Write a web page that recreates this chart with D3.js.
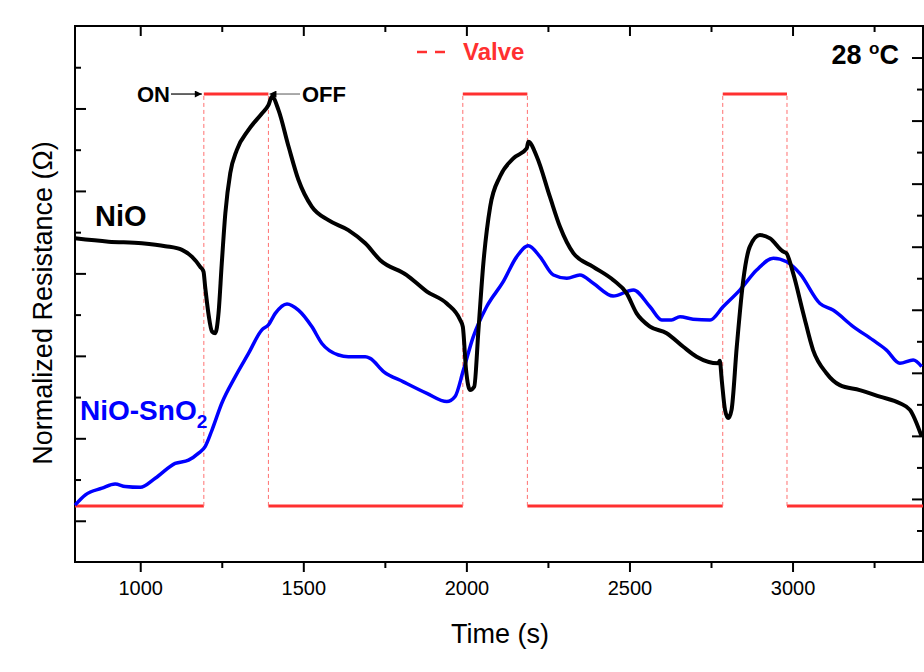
<!DOCTYPE html>
<html lang="en">
<head>
  <meta charset="UTF-8">
  <title>Normalized Resistance vs Time</title>
  <script src="https://d3js.org/d3.v7.min.js"></script>
  <style>
    body { margin: 0; background: #fff; }
    svg { display: block; font-family: Arial, "Liberation Sans", sans-serif; }
    .axis path, .axis line { stroke: #000; stroke-width: 2; }
    .axis text { font-size: 20px; fill: #000; }
  </style>
</head>
<body>
  <svg width="924" height="672"></svg>

  <script>
    // time (s) and normalized resistance
    const nioTime = [800, 903, 1005, 1077, 1128, 1159, 1184, 1194, 1199, 1209, 1220, 1230, 1240, 1250, 1261, 1276, 1296, 1332, 1373, 1393, 1404, 1424, 1455, 1485, 1526, 1577, 1638, 1690, 1736, 1817, 1879, 1940, 1981, 1989, 1999, 2011, 2024, 2037, 2052, 2073, 2103, 2144, 2185, 2190, 2216, 2256, 2287, 2328, 2389, 2450, 2491, 2522, 2563, 2614, 2665, 2706, 2772, 2777, 2783, 2793, 2803, 2813, 2829, 2849, 2869, 2900, 2931, 2971, 2981, 3002, 3033, 3063, 3104, 3145, 3206, 3268, 3329, 3360, 3396];
    const nioValue = [7.85, 7.77, 7.73, 7.66, 7.57, 7.40, 7.16, 7.04, 6.68, 6.03, 5.59, 5.55, 6.03, 7.24, 8.46, 9.43, 9.99, 10.48, 10.88, 11.08, 11.29, 10.96, 10.07, 9.27, 8.62, 8.29, 8.05, 7.73, 7.32, 6.96, 6.56, 6.27, 5.87, 5.71, 4.66, 4.17, 4.25, 5.63, 7.24, 8.62, 9.35, 9.79, 10.03, 10.19, 9.83, 8.86, 8.13, 7.49, 7.16, 6.84, 6.52, 6.03, 5.71, 5.55, 5.22, 4.98, 4.82, 4.88, 4.41, 3.69, 3.49, 3.69, 5.22, 6.84, 7.65, 7.93, 7.85, 7.53, 7.49, 7.00, 6.03, 5.14, 4.58, 4.29, 4.17, 4.01, 3.85, 3.69, 3.04];

    const snoTime = [800, 832, 883, 923, 954, 1000, 1046, 1107, 1148, 1179, 1199, 1220, 1250, 1291, 1332, 1373, 1393, 1414, 1450, 1485, 1526, 1557, 1608, 1638, 1690, 1705, 1746, 1807, 1879, 1940, 1965, 1991, 2021, 2062, 2113, 2154, 2190, 2226, 2267, 2308, 2348, 2389, 2450, 2512, 2563, 2599, 2629, 2655, 2695, 2747, 2787, 2839, 2890, 2941, 2982, 3022, 3084, 3124, 3186, 3247, 3288, 3329, 3370, 3396];
    const snoValue = [1.38, 1.63, 1.79, 1.89, 1.83, 1.81, 2.03, 2.39, 2.47, 2.64, 2.80, 3.20, 3.85, 4.49, 5.06, 5.63, 5.75, 6.03, 6.26, 6.11, 5.71, 5.30, 5.02, 4.98, 4.98, 4.94, 4.62, 4.37, 4.09, 3.89, 4.01, 4.66, 5.46, 6.19, 6.80, 7.40, 7.67, 7.40, 6.96, 6.88, 6.96, 6.76, 6.45, 6.60, 6.19, 5.87, 5.87, 5.95, 5.89, 5.87, 6.19, 6.60, 7.08, 7.37, 7.28, 7.00, 6.27, 6.11, 5.71, 5.38, 5.14, 4.82, 4.90, 4.74];

    // valve switching times and levels
    const valveSwitch = [1195, 1393, 1989, 2187, 2786, 2983];
    const valveLow = 1.36;
    const valveHigh = 11.35;

    const xMajor = [1000, 1500, 2000, 2500, 3000];
    const xMinor = [1250, 1750, 2250, 2750, 3250];

    const svg = d3.select("svg"),
          margin = {top: 26, right: 1, bottom: 110, left: 75},
          width = +svg.attr("width") - margin.left - margin.right,
          height = +svg.attr("height") - margin.top - margin.bottom;

    const x = d3.scaleLinear().domain([800, 3400]).range([margin.left, margin.left + width]);
    const y = d3.scaleLinear().domain([0, 13]).range([margin.top + height, margin.top]);
    const yRight = d3.scaleLinear().domain([0, 17]).range([margin.top + height, margin.top]);

    const bottom = margin.top + height, right = margin.left + width;

    // axes: bottom (labelled, ticks outward), top (ticks inward)
    svg.append("g").attr("class", "axis").attr("transform", `translate(0,${bottom})`)
      .call(d3.axisBottom(x).tickValues(xMajor).tickSize(10).tickPadding(9).tickFormat(d3.format("d")));
    svg.append("g").attr("class", "axis").attr("transform", `translate(0,${bottom})`)
      .call(d3.axisBottom(x).tickValues(xMinor).tickSize(6).tickFormat(""));
    svg.append("g").attr("class", "axis").attr("transform", `translate(0,${margin.top})`)
      .call(d3.axisBottom(x).tickValues(xMajor).tickSize(10).tickFormat(""));
    svg.append("g").attr("class", "axis").attr("transform", `translate(0,${margin.top})`)
      .call(d3.axisBottom(x).tickValues(xMinor).tickSize(6).tickFormat(""));

    // left and right axes, no labels, ticks inward
    const leftMajor = d3.range(1, 13, 2), leftMinor = d3.range(2, 13, 2);
    svg.append("g").attr("class", "axis").attr("transform", `translate(${margin.left},0)`)
      .call(d3.axisRight(y).tickValues(leftMajor).tickSize(11).tickFormat(""));
    svg.append("g").attr("class", "axis").attr("transform", `translate(${margin.left},0)`)
      .call(d3.axisRight(y).tickValues(leftMinor).tickSize(6).tickFormat(""));
    const rightMajor = d3.range(2, 17, 2), rightMinor = d3.range(1, 17, 2);
    svg.append("g").attr("class", "axis").attr("transform", `translate(${right},0)`)
      .call(d3.axisLeft(yRight).tickValues(rightMajor).tickSize(11).tickFormat(""));
    svg.append("g").attr("class", "axis").attr("transform", `translate(${right},0)`)
      .call(d3.axisLeft(yRight).tickValues(rightMinor).tickSize(6).tickFormat(""));
    svg.selectAll(".axis path").remove();

    // frame
    svg.append("rect")
      .attr("x", margin.left).attr("y", margin.top)
      .attr("width", width).attr("height", height)
      .attr("fill", "none").attr("stroke", "#000").attr("stroke-width", 2);

    // valve signal
    const red = "#ff3030";
    const edges = [800, ...valveSwitch, 3400];
    const segs = d3.range(edges.length - 1).map(i => ({
      t0: edges[i], t1: edges[i + 1], v: i % 2 === 0 ? valveLow : valveHigh
    }));
    svg.append("g").selectAll("line").data(segs).join("line")
      .attr("x1", d => x(d.t0)).attr("x2", d => x(d.t1))
      .attr("y1", d => y(d.v)).attr("y2", d => y(d.v))
      .attr("stroke", red).attr("stroke-width", 3);
    svg.append("g").selectAll("line").data(valveSwitch).join("line")
      .attr("x1", d => x(d)).attr("x2", d => x(d))
      .attr("y1", y(valveLow)).attr("y2", y(valveHigh))
      .attr("stroke", "#ff7070").attr("stroke-width", 1).attr("stroke-dasharray", "4,3");

    // sensor curves
    const line = d3.line().x(d => x(d[0])).y(d => y(d[1])).curve(d3.curveMonotoneX);
    svg.append("path").datum(d3.zip(snoTime, snoValue))
      .attr("d", line).attr("fill", "none").attr("stroke", "#0000ff").attr("stroke-width", 3.5)
      .attr("stroke-linejoin", "round");
    svg.append("path").datum(d3.zip(nioTime, nioValue))
      .attr("d", line).attr("fill", "none").attr("stroke", "#000").attr("stroke-width", 4)
      .attr("stroke-linejoin", "round");

    // axis titles
    svg.append("text").attr("x", 500).attr("y", 643).attr("text-anchor", "middle")
      .style("font-size", "27px").text("Time (s)");
    svg.append("text").attr("transform", "translate(52,303) rotate(-90)").attr("text-anchor", "middle")
      .style("font-size", "27px").text("Normalized Resistance (Ω)");

    // legend
    svg.append("line").attr("x1", 417).attr("x2", 446).attr("y1", 52).attr("y2", 52)
      .attr("stroke", red).attr("stroke-width", 2.5).attr("stroke-dasharray", "10,8");
    svg.append("text").attr("x", 463).attr("y", 60).style("font-size", "24px")
      .style("font-weight", "bold").attr("fill", red).text("Valve");

    // temperature
    const temp = svg.append("text").attr("x", 899).attr("y", 64).attr("text-anchor", "end")
      .style("font-size", "27px").style("font-weight", "bold");
    temp.append("tspan").text("28 ");
    temp.append("tspan").attr("dy", -10).style("font-size", "17px").text("o");
    temp.append("tspan").attr("dy", 10).text("C");

    // curve labels
    svg.append("text").attr("x", 95).attr("y", 226).style("font-size", "29px")
      .style("font-weight", "bold").text("NiO");
    const sn = svg.append("text").attr("x", 80).attr("y", 420).attr("fill", "#0000ff")
      .style("font-size", "28px").style("font-weight", "bold");
    sn.append("tspan").text("NiO-SnO");
    sn.append("tspan").attr("dy", 8).style("font-size", "19px").text("2");

    // ON / OFF annotations
    const defs = svg.append("defs");
    defs.append("marker").attr("id", "arrow").attr("viewBox", "0 0 10 10")
      .attr("refX", 10).attr("refY", 5).attr("markerWidth", 10).attr("markerHeight", 7)
      .attr("markerUnits", "userSpaceOnUse").attr("orient", "auto")
      .append("path").attr("d", "M0,0L10,5L0,10Z").attr("fill", "#000");
    svg.append("line").attr("x1", 171).attr("x2", x(valveSwitch[0]) - 2)
      .attr("y1", y(valveHigh)).attr("y2", y(valveHigh))
      .attr("stroke", "#000").attr("stroke-width", 1.2).attr("marker-end", "url(#arrow)");
    svg.append("line").attr("x1", 300).attr("x2", x(valveSwitch[1]) + 1)
      .attr("y1", y(valveHigh)).attr("y2", y(valveHigh))
      .attr("stroke", "#555").attr("stroke-width", 1).attr("marker-end", "url(#arrow)");
    svg.append("text").attr("x", 137).attr("y", 102).style("font-size", "22px")
      .style("font-weight", "bold").text("ON");
    svg.append("text").attr("x", 302).attr("y", 102).style("font-size", "22px")
      .style("font-weight", "bold").text("OFF");
  </script>
</body>
</html>
